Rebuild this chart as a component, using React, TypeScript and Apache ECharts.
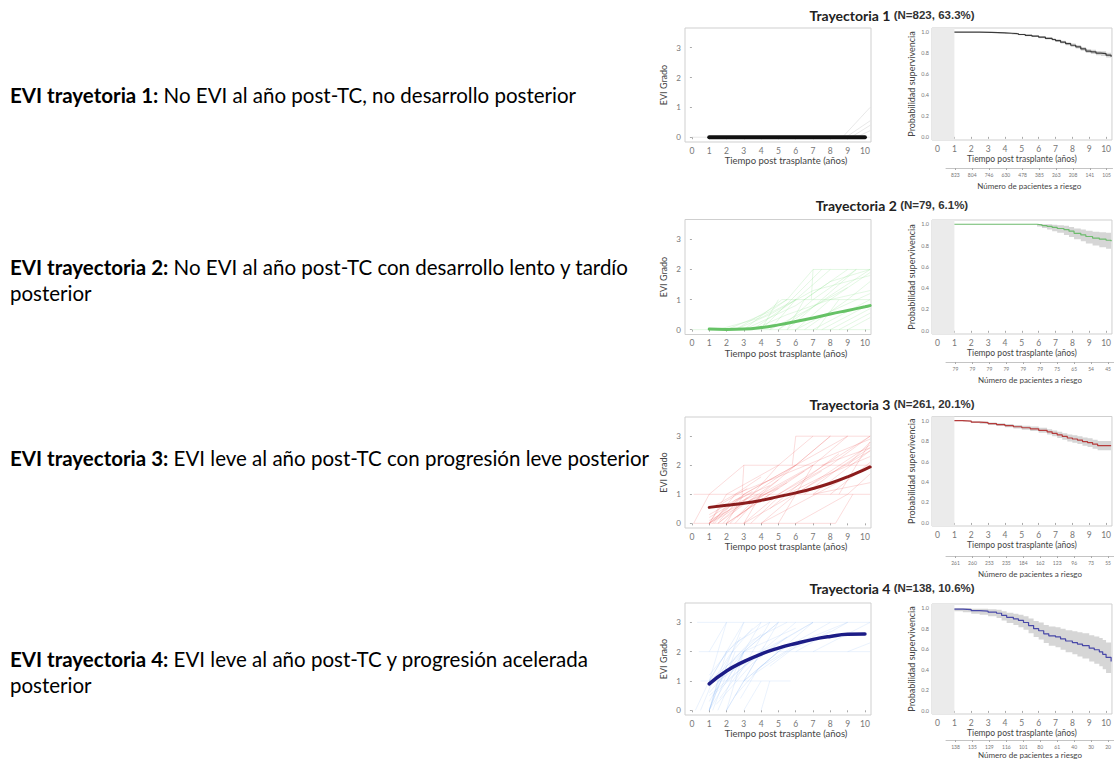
import React, { useEffect, useRef } from "react";
import * as echarts from "echarts";

// ---------- text ----------
const descBold = ["EVI trayetoria 1:", "EVI trayectoria 2:", "EVI trayectoria 3:", "EVI trayectoria 4:"];
const descRest = [
  " No EVI al año post-TC, no desarrollo posterior",
  " No EVI al año post-TC con desarrollo lento y tardío\nposterior",
  " EVI leve al año post-TC con progresión leve posterior",
  " EVI leve al año post-TC y progresión acelerada\nposterior",
];
const titleMain = ["Trayectoria 1", "Trayectoria 2", "Trayectoria 3", "Trayectoria 4"];
const titleSub = ["(N=823, 63.3%)", "(N=79, 6.1%)", "(N=261, 20.1%)", "(N=138, 10.6%)"];

// ---------- ticks ----------
const xTicks = [0, 1, 2, 3, 4, 5, 6, 7, 8, 9, 10];
const eviTicks = [0, 1, 2, 3];
const survTicks = [0, 0.2, 0.4, 0.6, 0.8, 1.0];
const riskTimes = [1, 2, 3, 4, 5, 6, 7, 8, 9, 10];

// ---------- risk tables ----------
const risk1 = [823, 804, 746, 630, 478, 385, 263, 208, 141, 105];
const risk2 = [79, 79, 79, 79, 79, 79, 75, 65, 54, 45];
const risk3 = [261, 260, 253, 235, 184, 162, 123, 96, 73, 55];
const risk4 = [138, 135, 129, 116, 101, 80, 61, 40, 30, 20];

// ---------- mean EVI trajectories ----------
const mean1X = [1, 10];
const mean1Y = [0, 0];
const mean2X = [1, 2, 3, 4, 5, 6, 7, 8, 9, 10, 10.3];
const mean2Y = [0.02, 0.01, 0.02, 0.07, 0.16, 0.27, 0.39, 0.52, 0.64, 0.76, 0.8];
const mean3X = [1, 2, 3, 4, 5, 6, 7, 8, 9, 10, 10.3];
const mean3Y = [0.55, 0.62, 0.69, 0.79, 0.92, 1.05, 1.2, 1.38, 1.6, 1.86, 1.94];
const mean4X = [1, 2, 3, 4, 5, 6, 7, 8, 9, 10];
const mean4Y = [0.9, 1.34, 1.66, 1.92, 2.12, 2.28, 2.42, 2.52, 2.59, 2.6];

// ---------- individual trajectories ----------
const indiv1 = [
  [[0, 0], [10.3, 0]],
  [[8.7, 0], [10.3, 1]],
  [[8.9, 0], [10.3, 0.55]],
  [[9.2, 0], [10.3, 0.4]],
  [[9.5, 0], [10.3, 0.22]],
];
const indiv2 = [
  [[0, 0], [10.3, 0]],
  [[5.2, 1], [10.3, 1]],
  [[7.0, 2], [10.3, 2]],
  [[3.0, 0], [5.2, 1]],
  [[4.0, 0], [5.0, 1]],
  [[2.5, 0], [5.5, 1]],
  [[4.5, 0], [6.0, 1]],
  [[5.0, 0], [7.0, 1]],
  [[5.5, 0], [6.5, 1]],
  [[6.0, 0], [8.0, 1]],
  [[6.5, 0], [9.0, 1]],
  [[7.0, 0], [10.3, 1]],
  [[7.5, 0], [10.3, 0.85]],
  [[8.0, 0], [10.3, 0.7]],
  [[8.5, 0], [10.3, 0.55]],
  [[9.0, 0], [10.3, 0.4]],
  [[5.5, 1], [7.0, 2]],
  [[6.0, 1], [8.0, 2]],
  [[6.5, 1], [9.0, 2]],
  [[7.0, 1], [9.5, 2]],
  [[8.0, 1], [10.3, 1.9]],
  [[9.0, 1], [10.3, 1.6]],
  [[6.9, 1], [7.0, 2]],
  [[4.0, 0], [7.5, 2]],
  [[5.0, 0], [10.3, 2]],
  [[7.2, 0], [8.5, 1]],
  [[3.5, 0], [6.0, 1]],
  [[5.5, 0], [9.5, 2]],
  [[2.0, 0], [4.5, 0.6], [5.5, 1]],
  [[1.5, 0], [4.0, 0.4], [6.0, 1]],
  [[3.0, 0], [6.0, 0.8], [8.0, 1.6], [10.3, 2]],
  [[2.5, 0], [4.5, 0.5], [7.0, 1.3], [10.3, 1.8]],
  [[3.5, 0], [5.5, 0.5], [8.0, 1.0], [10.3, 1.3]],
  [[6.0, 0], [8.0, 0.6], [10.3, 1.2]],
  [[4.5, 0], [6.5, 0.6], [9.0, 1.4]],
];
const indiv3 = [
  [[0.1, 0], [8.3, 0]],
  [[8.3, 0], [9.3, 1]],
  [[0.1, 1], [10.3, 1]],
  [[3.0, 2], [10.3, 2]],
  [[6.0, 3], [10.3, 3]],
  [[0.1, 0], [1.0, 1]],
  [[2.9, 1], [3.0, 2]],
  [[5.8, 2], [6.0, 3]],
  [[1, 0], [2, 1]],
  [[1, 0], [3, 1]],
  [[1, 0], [4, 1]],
  [[1.2, 0], [2.5, 1]],
  [[1.5, 0], [3.5, 1]],
  [[2, 0], [3, 1]],
  [[2, 0], [4.5, 1]],
  [[2.5, 0], [4, 1]],
  [[3, 0], [5, 1]],
  [[3, 0], [4, 1]],
  [[4, 0], [6, 1]],
  [[5, 0], [7, 2]],
  [[1, 1], [3, 2]],
  [[2, 1], [5, 2]],
  [[3, 1], [6, 2]],
  [[3.5, 1], [5, 2]],
  [[4, 1], [7, 2]],
  [[5, 1], [8, 2]],
  [[3, 1], [9, 3]],
  [[4, 1], [8, 3]],
  [[5, 1], [10.3, 3]],
  [[6, 1], [10.3, 2.7]],
  [[7, 1], [10.3, 2.5]],
  [[8, 1], [10.3, 2.1]],
  [[9, 1], [10.3, 1.7]],
  [[5, 2], [7, 3]],
  [[6, 2], [8, 3]],
  [[7, 2], [9, 3]],
  [[8, 2], [10.3, 3]],
  [[9, 2], [10.3, 2.8]],
  [[4, 0], [10.3, 2]],
  [[3, 0], [10.3, 2.5]],
  [[2, 0], [7, 2]],
  [[1, 0], [6, 2]],
  [[6, 0], [9, 1]],
  [[1.5, 0], [5, 1.5]],
  [[2.5, 1], [10.3, 2.9]],
  [[7, 1], [10.3, 1.4]],
  [[1, 0.2], [3.5, 1.1]],
  [[1.8, 0], [3.2, 0.9]],
  [[1, 0], [2.5, 0.8], [4.5, 1.3]],
  [[1, 0.1], [3, 0.7], [5, 1.2]],
  [[1.3, 0], [2.2, 0.6], [3.8, 1.0]],
  [[1, 0.3], [2.8, 0.9]],
  [[1.6, 0.1], [3.0, 1.0]],
  [[2.2, 0], [3.6, 0.8], [5.5, 1.4]],
  [[1, 0], [1.8, 0.7], [3.2, 1.2]],
  [[2.6, 0.2], [4.2, 1.0], [6.5, 1.8]],
  [[3.4, 0], [5.0, 0.9], [7.5, 1.8]],
  [[1, 0.5], [2.5, 1.0], [4.0, 1.6]],
  [[4.5, 0.5], [6.5, 1.5], [8.5, 2.4]],
  [[6.5, 1], [8.5, 1.9], [10.3, 2.6]],
  [[5.5, 1], [7.5, 1.6], [10.3, 2.3]],
  [[8.5, 1], [10.3, 2.8]],
  [[7.5, 2], [10.3, 2.6]],
];
const indiv4 = [
  [[0.3, 3], [10.3, 3]],
  [[0.4, 2], [10.3, 2]],
  [[0.5, 1], [5.7, 1]],
  [[0.2, 0], [1, 1]],
  [[1, 0], [1.5, 1]],
  [[1, 0], [2, 1.5]],
  [[1, 0], [2, 2]],
  [[1, 0], [3, 3]],
  [[1, 0], [4, 3]],
  [[1.2, 0], [2.5, 2]],
  [[1.5, 0], [3, 2]],
  [[2, 0], [3, 2]],
  [[2, 0], [4, 2]],
  [[2, 0], [5, 3]],
  [[3, 0], [4, 1]],
  [[4, 0], [4.5, 1]],
  [[1, 1], [2, 3]],
  [[1, 1], [3, 3]],
  [[1, 1], [5, 3]],
  [[1, 1], [2, 2]],
  [[2, 1], [3, 2]],
  [[2, 1], [6, 3]],
  [[3, 1], [5, 2]],
  [[3, 1], [7, 3]],
  [[1, 2], [2, 3]],
  [[2, 2], [4, 3]],
  [[3, 2], [5, 3]],
  [[4, 2], [7, 3]],
  [[5, 2], [8, 3]],
  [[6, 2], [9, 3]],
  [[7, 2], [10.3, 3]],
  [[9, 2], [10.3, 2.3]],
  [[1, 0.5], [2, 1]],
  [[1.5, 1], [4, 2]],
  [[2.5, 1], [4.5, 3]],
  [[0.5, 0], [1.2, 1]],
  [[1, 0.3], [2.5, 1.8], [4, 2.6]],
  [[1, 0.6], [3, 2.0], [6, 2.8]],
  [[1.4, 0.2], [3.5, 1.6], [5.5, 2.5]],
  [[1, 0.8], [2.2, 1.9], [3.5, 2.8]],
  [[1, 1.2], [2.5, 2.3], [4.5, 3]],
  [[1.2, 0.5], [3.0, 1.5], [5.0, 2.3], [7.0, 3]],
  [[2, 1.5], [3.5, 2.4], [5.5, 3]],
  [[1.6, 0.4], [2.6, 1.2], [4.2, 2.2]],
  [[2.5, 0.5], [4.0, 1.5], [6.5, 2.4]],
  [[3.5, 1.2], [5.5, 2.0], [8.0, 2.7]],
  [[4.5, 1.5], [6.5, 2.4], [9.0, 3]],
  [[1, 0], [1.8, 1.4], [2.8, 2.5]],
  [[2.8, 0.4], [3.8, 1.4], [5.0, 2.0]],
];

// ---------- Kaplan-Meier survival ----------
const km1T = [1, 2.5, 3.2, 3.6, 4.0, 4.4, 4.8, 5.2, 5.6, 6.0, 6.4, 6.8, 7.0, 7.3, 7.6, 7.9, 8.2, 8.5, 8.8, 9.1, 9.4, 9.7, 10.0, 10.3];
const km1S = [1.0, 0.998, 0.996, 0.993, 0.99, 0.985, 0.978, 0.97, 0.962, 0.952, 0.94, 0.93, 0.92, 0.905, 0.89, 0.875, 0.86, 0.84, 0.82, 0.812, 0.8, 0.795, 0.78, 0.765];
const km1Lo = [1.0, 0.996, 0.993, 0.989, 0.985, 0.979, 0.971, 0.962, 0.953, 0.942, 0.929, 0.918, 0.907, 0.891, 0.875, 0.859, 0.843, 0.822, 0.801, 0.792, 0.779, 0.773, 0.757, 0.74];
const km1Hi = [1.0, 1.0, 0.999, 0.997, 0.995, 0.991, 0.985, 0.978, 0.971, 0.962, 0.951, 0.942, 0.933, 0.919, 0.905, 0.891, 0.877, 0.858, 0.839, 0.832, 0.821, 0.817, 0.803, 0.79];

const km2T = [1, 5.5, 5.9, 6.2, 6.5, 6.8, 7.1, 7.5, 7.8, 8.1, 8.5, 8.8, 9.2, 9.6, 10.0, 10.3];
const km2S = [1, 1, 0.995, 0.987, 0.98, 0.97, 0.96, 0.95, 0.935, 0.915, 0.9, 0.885, 0.87, 0.86, 0.85, 0.84];
const km2Lo = [1, 1, 0.98, 0.965, 0.95, 0.935, 0.92, 0.9, 0.88, 0.86, 0.84, 0.82, 0.8, 0.785, 0.77, 0.755];
const km2Hi = [1, 1, 1, 1, 1, 0.995, 0.99, 0.985, 0.975, 0.96, 0.95, 0.94, 0.93, 0.925, 0.92, 0.915];

const km3T = [1, 1.5, 2.0, 2.5, 3.0, 3.5, 4.0, 4.5, 5.0, 5.5, 6.0, 6.5, 6.8, 7.1, 7.4, 7.7, 8.0, 8.3, 8.6, 8.9, 9.2, 9.5, 10.3];
const km3S = [1.0, 0.995, 0.985, 0.98, 0.97, 0.96, 0.95, 0.94, 0.93, 0.92, 0.905, 0.89, 0.875, 0.86, 0.845, 0.83, 0.82, 0.81, 0.795, 0.785, 0.77, 0.755, 0.75];
const km3Lo = [1.0, 0.99, 0.977, 0.97, 0.958, 0.946, 0.934, 0.922, 0.91, 0.898, 0.881, 0.864, 0.847, 0.83, 0.813, 0.796, 0.784, 0.772, 0.755, 0.743, 0.726, 0.709, 0.702];
const km3Hi = [1.0, 1.0, 0.993, 0.99, 0.982, 0.974, 0.966, 0.958, 0.95, 0.942, 0.929, 0.916, 0.903, 0.89, 0.877, 0.864, 0.856, 0.848, 0.835, 0.827, 0.814, 0.801, 0.798];

const km4T = [1, 1.5, 2, 2.5, 3, 3.5, 3.8, 4.1, 4.5, 4.8, 5.1, 5.4, 5.7, 6.0, 6.3, 6.6, 7.0, 7.3, 7.6, 8.0, 8.3, 8.6, 9.0, 9.3, 9.6, 9.8, 10.0, 10.3];
const km4S = [0.99, 0.985, 0.975, 0.97, 0.96, 0.95, 0.93, 0.91, 0.895, 0.88, 0.86, 0.83, 0.8, 0.78, 0.75, 0.73, 0.72, 0.7, 0.68, 0.665, 0.65, 0.635, 0.61, 0.595, 0.575, 0.55, 0.52, 0.48];
const km4Lo = [0.97, 0.96, 0.945, 0.935, 0.92, 0.905, 0.88, 0.855, 0.835, 0.815, 0.79, 0.755, 0.72, 0.695, 0.66, 0.635, 0.62, 0.595, 0.57, 0.55, 0.53, 0.51, 0.48, 0.46, 0.435, 0.405, 0.37, 0.33];
const km4Hi = [1.0, 1.0, 0.995, 0.995, 0.99, 0.985, 0.97, 0.955, 0.945, 0.935, 0.92, 0.9, 0.875, 0.86, 0.835, 0.82, 0.815, 0.8, 0.785, 0.775, 0.765, 0.755, 0.735, 0.725, 0.71, 0.69, 0.665, 0.63];

// ---------- assembly ----------
const riskAll = [risk1, risk2, risk3, risk4];
const meanXAll = [mean1X, mean2X, mean3X, mean4X];
const meanYAll = [mean1Y, mean2Y, mean3Y, mean4Y];
const indivAll = [indiv1, indiv2, indiv3, indiv4];
const kmT = [km1T, km2T, km3T, km4T];
const kmS = [km1S, km2S, km3S, km4S];
const kmLo = [km1Lo, km2Lo, km3Lo, km4Lo];
const kmHi = [km1Hi, km2Hi, km3Hi, km4Hi];

const meanColor = ["#111111", "#66c266", "#8b1c1c", "#1c1c86"];
const meanWidth = [4, 3, 3, 3.5];
const indivColor = ["rgba(190,190,190,0.7)", "rgba(120,220,120,0.4)", "rgba(235,90,90,0.42)", "rgba(130,175,240,0.33)"];
const kmColor = ["#3a3a3a", "#6dbb6d", "#b53b3b", "#4848a8"];

// layout per row (pixels)
const layout = [
  { lTop: 28, lH: 114, rTop: 28, rH: 112, riskY: 168, titleY: 15, descY: 95 },
  { lTop: 219.5, lH: 115, rTop: 220, rH: 114, riskY: 362, titleY: 205, descY: 280 },
  { lTop: 417, lH: 111, rTop: 416.5, rH: 109.5, riskY: 556, titleY: 404, descY: 458 },
  { lTop: 603, lH: 112, rTop: 604, rH: 110, riskY: 740, titleY: 588, descY: 672 },
];

const FONT = "Lato, 'Open Sans', sans-serif";
const tickLabelColor = "#777";
const nameColor = "#444";

function buildOption() {
  const grid: any[] = [];
  const xAxis: any[] = [];
  const yAxis: any[] = [];
  const series: any[] = [];
  const graphic: any[] = [];

  layout.forEach((L, r) => {
    const gL = grid.length;
    grid.push({ left: 685, top: L.lTop, width: 186, height: L.lH, show: true, borderColor: "#cfcfcf", borderWidth: 1, containLabel: false });
    grid.push({ left: 932, top: L.rTop, width: 186, height: L.rH, show: true, borderColor: "#cfcfcf", borderWidth: 1, containLabel: false });
    grid.push({ left: 946, top: L.riskY - 1, width: 172, height: 1, show: false, containLabel: false });

    // left EVI panel
    xAxis.push({
      type: "value", gridIndex: gL, min: -0.4, max: 10.35,
      axisLine: { show: false }, splitLine: { show: false },
      axisTick: { show: true, customValues: xTicks, length: 2, lineStyle: { color: "#aaa" } },
      axisLabel: { customValues: xTicks, fontSize: 8.5, color: tickLabelColor, margin: 4, fontFamily: FONT },
      name: "Tiempo post trasplante (años)", nameLocation: "middle", nameGap: 13,
      nameTextStyle: { fontSize: 9.5, color: nameColor, fontFamily: FONT, padding: [0, 0, 0, 16] },
    });
    yAxis.push({
      type: "value", gridIndex: gL, min: -0.16, max: 3.66,
      axisLine: { show: false }, splitLine: { show: false },
      axisTick: { show: true, customValues: eviTicks, length: 2, lineStyle: { color: "#aaa" } },
      axisLabel: { customValues: eviTicks, fontSize: 8, color: tickLabelColor, margin: 4, fontFamily: FONT },
      name: "EVI Grado", nameLocation: "middle", nameGap: 17, nameRotate: 90,
      nameTextStyle: { fontSize: 9, color: nameColor, fontFamily: FONT },
    });
    // right survival panel
    xAxis.push({
      type: "value", gridIndex: gL + 1, min: -0.33, max: 10.35,
      axisLine: { show: false }, splitLine: { show: false },
      axisTick: { show: true, customValues: xTicks, length: 2, lineStyle: { color: "#aaa" } },
      axisLabel: { customValues: xTicks, fontSize: 8.5, color: tickLabelColor, margin: 4, fontFamily: FONT },
      name: "Tiempo post trasplante (años)", nameLocation: "middle", nameGap: 14,
      nameTextStyle: { fontSize: 8.5, color: nameColor, fontFamily: FONT },
    });
    yAxis.push({
      type: "value", gridIndex: gL + 1, min: -0.03, max: 1.04,
      axisLine: { show: false }, splitLine: { show: false },
      axisTick: { show: true, customValues: survTicks, length: 2, lineStyle: { color: "#aaa" } },
      axisLabel: { customValues: survTicks, fontSize: 5.5, color: tickLabelColor, margin: 3, fontFamily: FONT, formatter: (v: number) => v.toFixed(1) },
      name: "Probabilidad supervivencia", nameLocation: "middle", nameGap: 16, nameRotate: 90,
      nameTextStyle: { fontSize: 9, color: nameColor, fontFamily: FONT },
    });
    // risk table axis
    xAxis.push({
      type: "value", gridIndex: gL + 2, min: 0.44, max: 10.35,
      axisLine: { show: true, lineStyle: { color: "#aaa", width: 0.7 } }, splitLine: { show: false },
      axisTick: { show: true, customValues: riskTimes, length: 2, lineStyle: { color: "#aaa" } },
      axisLabel: { customValues: riskTimes, fontSize: 5, color: tickLabelColor, margin: 4, fontFamily: FONT, formatter: (v: number) => String(riskAll[r][Math.round(v) - 1]) },
      name: "Número de pacientes a riesgo", nameLocation: "middle", nameGap: r === 3 ? 11 : 14,
      nameTextStyle: { fontSize: 8, color: nameColor, fontFamily: FONT },
    });
    yAxis.push({ type: "value", gridIndex: gL + 2, min: 0, max: 1, show: false });

    // individual trajectories
    series.push({
      type: "lines", coordinateSystem: "cartesian2d", xAxisIndex: gL, yAxisIndex: gL,
      polyline: true, silent: true,
      lineStyle: { color: indivColor[r], width: 1 },
      data: indivAll[r].map((c) => ({ coords: c })),
    });
    // mean trajectory
    series.push({
      type: "line", xAxisIndex: gL, yAxisIndex: gL, smooth: true, symbol: "none", silent: true,
      lineStyle: { color: meanColor[r], width: meanWidth[r], cap: "round" },
      data: meanXAll[r].map((x, i) => [x, meanYAll[r][i]]),
      z: 5,
    });

    // KM confidence band (custom polygon through the axes' scale)
    series.push({
      type: "custom", xAxisIndex: gL + 1, yAxisIndex: gL + 1, silent: true,
      data: [[kmT[r][0], kmS[r][0]]],
      encode: { x: 0, y: 1 },
      renderItem: (params: any, api: any) => {
        const T = kmT[r], lo = kmLo[r], hi = kmHi[r];
        const up: number[][] = [];
        const dn: number[][] = [];
        for (let i = 0; i < T.length; i++) {
          const tn = i < T.length - 1 ? T[i + 1] : T[i];
          up.push(api.coord([T[i], hi[i]]), api.coord([tn, hi[i]]));
          dn.push(api.coord([T[i], lo[i]]), api.coord([tn, lo[i]]));
        }
        return { type: "polygon", shape: { points: up.concat(dn.reverse()) }, style: { fill: "#d6d6d6" } };
      },
      z: 2,
    });
    // KM curve + shaded first year
    series.push({
      type: "line", xAxisIndex: gL + 1, yAxisIndex: gL + 1, step: "end",
      symbol: "none", silent: true,
      lineStyle: { color: kmColor[r], width: 1.2 },
      data: kmT[r].map((t, i) => [t, kmS[r][i]]),
      markArea: {
        silent: true,
        itemStyle: { color: "#ebebeb" },
        data: [[{ xAxis: -0.33, yAxis: -0.03 }, { xAxis: 1, yAxis: 1.04 }]],
      },
      z: 5,
    });

    // titles
    graphic.push({
      type: "text", x: 892, y: L.titleY,
      style: {
        text: "{a|" + titleMain[r] + "} {b|" + titleSub[r] + "}",
        textAlign: "center", textVerticalAlign: "middle",
        rich: {
          a: { fontSize: 14, fontWeight: "bold", fontFamily: FONT, fill: "#222" },
          b: { fontSize: 11.5, fontWeight: "bold", fontFamily: "'Liberation Sans', Arial, sans-serif", fill: "#333" },
        },
      },
    });
    // descriptions
    graphic.push({
      type: "text", x: 10, y: L.descY,
      style: {
        text: "{b|" + descBold[r] + "}" + descRest[r].split("\n").map((s) => "{n|" + s + "}").join("\n"),
        textAlign: "left", textVerticalAlign: "middle",
        rich: {
          b: { fontSize: 20.5, fontWeight: "bold", fontFamily: FONT, fill: "#000", lineHeight: 26 },
          n: { fontSize: 20.5, fontFamily: FONT, fill: "#000", lineHeight: 26 },
        },
      },
    });
  });

  return {
    animation: false,
    backgroundColor: "#ffffff",
    textStyle: { fontFamily: FONT },
    grid, xAxis, yAxis, series, graphic,
  };
}

export default function App() {
  const ref = useRef<HTMLDivElement>(null);
  useEffect(() => {
    if (!ref.current) return;
    const chart = echarts.init(ref.current, null, { renderer: "svg" });
    chart.setOption(buildOption() as any);
    return () => chart.dispose();
  }, []);
  return (
    <div
      ref={ref}
      style={{ position: "absolute", left: 0, top: 0, width: 1114, height: 760, background: "#fff", overflow: "hidden" }}
    />
  );
}
